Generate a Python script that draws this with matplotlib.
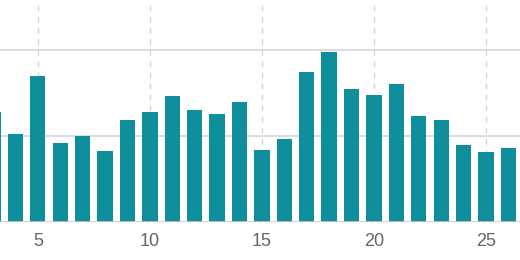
import matplotlib.pyplot as plt

# valeurs
jours = list(range(3, 27))
valeurs = [64, 51, 85, 46, 50, 41, 59, 64, 73, 65, 63, 70, 42, 48,
           87, 99, 77, 74, 80, 61.5, 59, 44.5, 40.5, 43]
ticks = [5, 10, 15, 20, 25]

fig = plt.figure(figsize=(5.2, 2.6), dpi=100)
ax = fig.add_axes([0, 38 / 260, 1, 222 / 260])

ax.bar(jours, valeurs, width=0.68, color='#0f8e9b', zorder=3)

ax.set_xlim(3.31, 26.52)
ax.set_ylim(0, 129)
ax.set_xticks(ticks)
ax.set_yticks([0, 50, 100])

# grilles
for t in ticks:
    ax.axvline(t, color='#d6d0de', linestyle=(0, (4, 4)), linewidth=1, zorder=1)
for y in [50, 100]:
    ax.axhline(y, color='#d6d4da', linewidth=1.2, zorder=2)
ax.axhline(0, color='#c9c7cc', linewidth=1.2, zorder=4)

for s in ax.spines.values():
    s.set_visible(False)
ax.tick_params(axis='x', length=0, pad=8, labelsize=13, labelcolor='#666666')
ax.tick_params(axis='y', left=False, labelleft=False)
for lab in ax.get_xticklabels():
    lab.set_fontfamily('Liberation Sans')

fig.savefig('out.png', dpi=100)
